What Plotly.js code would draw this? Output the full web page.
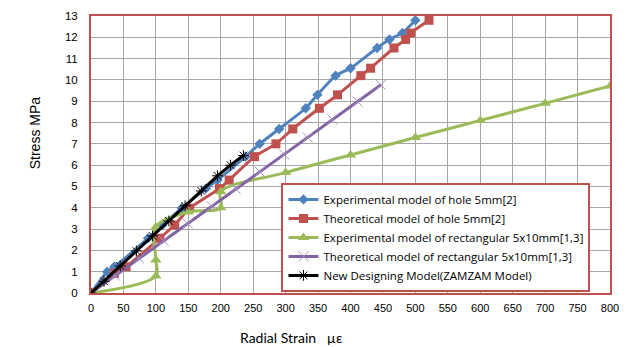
<!DOCTYPE html>
<html>
<head>
<meta charset="utf-8">
<script src="https://cdn.plot.ly/plotly-3.0.1.min.js"></script>
<style>html,body{margin:0;padding:0;background:#fff;}#chart{width:633px;height:347px;}</style>
</head>
<body>
<div id="chart"></div>
<script>
// Experimental model of hole 5mm[2]
const expHoleX = [0, 25, 36, 88, 110, 140, 177, 195, 238, 260, 290, 331, 349, 377, 400, 441, 460, 480, 500];
const expHoleY = [0, 1.0, 1.23, 2.57, 3.19, 3.98, 4.9, 5.3, 6.4, 7.0, 7.7, 8.67, 9.3, 10.2, 10.55, 11.5, 11.9, 12.2, 12.8];
// Theoretical model of hole 5mm[2]
const theoHoleX = [0, 36, 54, 106, 129, 152, 198, 213, 252, 285, 311, 352, 380, 416, 431, 467, 485, 493, 521];
const theoHoleY = [0, 0.92, 1.23, 2.57, 3.19, 3.98, 4.9, 5.3, 6.4, 7.0, 7.7, 8.67, 9.3, 10.2, 10.55, 11.5, 11.9, 12.2, 12.8];
// Experimental model of rectangular 5x10mm[1,3]
const expRectX = [0, 100, 100, 100, 150, 200, 200, 300, 400, 500, 600, 700, 800];
const expRectY = [0, 0.8, 1.55, 3.1, 3.8, 4.0, 4.75, 5.65, 6.48, 7.3, 8.1, 8.9, 9.72];
// Theoretical model of rectangular 5x10mm[1,3]
const theoRectX = [0, 37, 74, 112, 149, 186, 223, 260, 298, 334, 372, 411, 447];
const theoRectY = [0, 0.81, 1.62, 2.45, 3.26, 4.07, 4.88, 5.69, 6.5, 7.3, 8.15, 8.98, 9.77];
// New Designing Model(ZAMZAM Model)
const newModelX = [0, 20, 45, 70, 95, 120, 145, 170, 195, 215, 235];
const newModelY = [0, 0.55, 1.27, 1.97, 2.68, 3.38, 4.09, 4.79, 5.5, 6.0, 6.45];

const names = [
  'Experimental model of hole 5mm[2]',
  'Theoretical model of hole 5mm[2]',
  'Experimental model of rectangular 5x10mm[1,3]',
  'Theoretical model of rectangular 5x10mm[1,3]',
  'New Designing Model(ZAMZAM Model)'
];

const traces = [
  {x: expHoleX, y: expHoleY, name: names[0], mode: 'lines+markers',
   line: {color: '#4f81bd', width: 3, shape: 'spline', smoothing: 0.5},
   marker: {symbol: 'diamond', size: 8, color: '#4f81bd'}},
  {x: theoHoleX, y: theoHoleY, name: names[1], mode: 'lines+markers',
   line: {color: '#c0504d', width: 3, shape: 'spline', smoothing: 0.5},
   marker: {symbol: 'square', size: 9, color: '#c0504d'}},
  {x: expRectX, y: expRectY, name: names[2], mode: 'lines+markers',
   line: {color: '#9bbb59', width: 3, shape: 'spline', smoothing: 1},
   marker: {symbol: 'triangle-up', size: 10, color: '#9bbb59'}},
  {x: theoRectX, y: theoRectY, name: names[3], mode: 'lines+markers',
   line: {color: '#8064a2', width: 3},
   marker: {symbol: 'x-thin-open', size: 10, line: {color: '#a894c8', width: 1}, color: '#a894c8'}},
  {x: newModelX, y: newModelY, name: names[4], mode: 'lines+markers',
   line: {color: '#000000', width: 3},
   marker: {symbol: 'asterisk-open', size: 9, line: {color: '#000000', width: 1}}}
];

const layout = {
  width: 633, height: 347,
  margin: {l: 91, r: 23, t: 16, b: 54},
  paper_bgcolor: '#ffffff', plot_bgcolor: '#ffffff',
  font: {family: 'Liberation Sans, Arial, sans-serif', size: 11, color: '#000'},
  showlegend: true,
  legend: {
    x: 0.367, y: 0.004, xanchor: 'left', yanchor: 'bottom',
    bgcolor: '#ffffff', bordercolor: '#c0504d', borderwidth: 2,
    font: {family: 'Open Sans, sans-serif', size: 11.5, color: '#000'},
    tracegroupgap: 0, itemwidth: 30
  },
  xaxis: {
    range: [0, 800], dtick: 50, tick0: 0,
    showgrid: true, gridcolor: '#a6a6a6', gridwidth: 1,
    showline: true, linecolor: '#c0504d', linewidth: 2, mirror: true,
    ticks: 'outside', ticklen: 4, tickcolor: 'rgba(0,0,0,0)',
    zeroline: false, tickfont: {size: 11}
  },
  yaxis: {
    range: [0, 13], dtick: 1, tick0: 0,
    showgrid: true, gridcolor: '#a6a6a6', gridwidth: 1,
    showline: true, linecolor: '#c0504d', linewidth: 2, mirror: true,
    ticks: 'outside', ticklen: 9, tickcolor: 'rgba(0,0,0,0)',
    zeroline: false, tickfont: {size: 11.5}
  },
  annotations: [
    {text: 'Stress MPa', xref: 'paper', yref: 'paper', x: -0.108, y: 0.58,
     xanchor: 'center', yanchor: 'middle',
     textangle: -90, showarrow: false, font: {size: 14, family: 'Liberation Sans, Arial, sans-serif'}},
    {text: 'Radial Strain   µε', xref: 'paper', yref: 'paper', x: 0.385, y: -0.159,
     xanchor: 'center', yanchor: 'middle',
     showarrow: false, font: {size: 14, family: 'Lato, sans-serif'}}
  ]
};

Plotly.newPlot('chart', traces, layout, {displayModeBar: false, staticPlot: true});
</script>
</body>
</html>
